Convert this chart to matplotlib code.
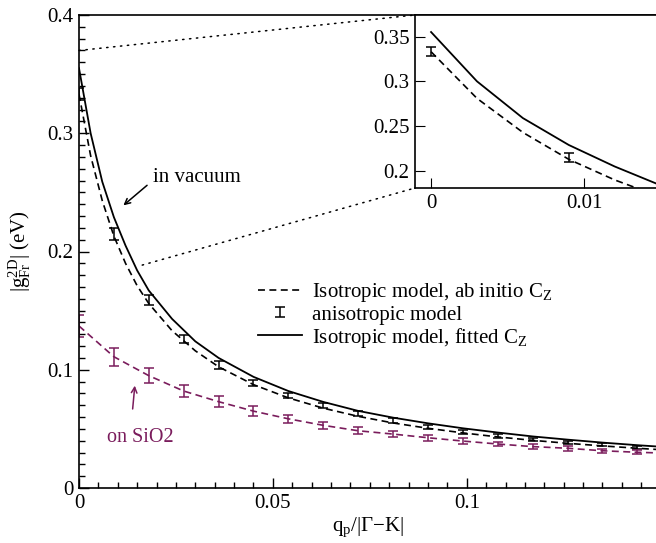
import matplotlib
matplotlib.use("Agg")
import matplotlib.pyplot as plt
from matplotlib.patches import ConnectionPatch
from matplotlib.lines import Line2D
from matplotlib.legend_handler import HandlerErrorbar

plt.rcParams["font.family"] = ["Liberation Serif", "DejaVu Serif"]
plt.rcParams["mathtext.fontset"] = "custom"
plt.rcParams["mathtext.rm"] = "Liberation Serif"
plt.rcParams["mathtext.it"] = "Liberation Serif:italic"
plt.rcParams["lines.scale_dashes"] = False

# curves (isotropic model)
q_curve = [0, 0.003, 0.006, 0.009, 0.012, 0.015, 0.018, 0.024, 0.030, 0.036, 0.045, 0.054,
           0.063, 0.072, 0.081, 0.090, 0.099, 0.108, 0.117, 0.126, 0.135, 0.144, 0.150]
g_fitted = [0.355, 0.300, 0.259, 0.229, 0.205, 0.184, 0.167, 0.143, 0.124, 0.110, 0.094, 0.082,
            0.0728, 0.0652, 0.0595, 0.0547, 0.0505, 0.0469, 0.0436, 0.0409, 0.0384, 0.0362, 0.0349]
g_abinitio = [0.333, 0.281, 0.243, 0.213, 0.190, 0.171, 0.156, 0.133, 0.116, 0.1025, 0.0874, 0.0762,
              0.0675, 0.0606, 0.0550, 0.0505, 0.0466, 0.0432, 0.0403, 0.0378, 0.0356, 0.0336, 0.0324]

# anisotropic model (error bars)
q_aniso = [0, 0.009, 0.018, 0.027, 0.036, 0.045, 0.054, 0.063, 0.072, 0.081,
           0.090, 0.099, 0.108, 0.117, 0.126, 0.135, 0.144]
g_vac = [0.333, 0.2145, 0.159, 0.126, 0.104, 0.089, 0.078, 0.070, 0.063, 0.057,
         0.0515, 0.0476, 0.044, 0.0412, 0.0386, 0.0367, 0.0346]
err_vac = [0.005, 0.005, 0.004, 0.0035, 0.003, 0.0025, 0.0022, 0.002, 0.002, 0.0018,
           0.0017, 0.0016, 0.0015, 0.0015, 0.0014, 0.0014, 0.0013]
g_sio2 = [0.137, 0.111, 0.095, 0.082, 0.073, 0.065, 0.0585, 0.053, 0.0484, 0.0456,
          0.0425, 0.0397, 0.0372, 0.035, 0.0336, 0.0315, 0.0302]
err_sio2 = [0.009, 0.0075, 0.0065, 0.005, 0.0045, 0.004, 0.0035, 0.003, 0.0028, 0.0026,
            0.0024, 0.0022, 0.002, 0.002, 0.0019, 0.0018, 0.0017]
q_sio2_end = 0.150
g_sio2_end = 0.0296

xticks = [0, 0.05, 0.1]
xticklabels = ["0", "0.05", "0.1"]
yticks = [0, 0.1, 0.2, 0.3, 0.4]
yticklabels = ["0", "0.1", "0.2", "0.3", "0.4"]
inset_xticks = [0, 0.01]
inset_xticklabels = ["0", "0.01"]
inset_yticks = [0.2, 0.25, 0.3, 0.35]
inset_yticklabels = ["0.2", "0.25", "0.3", "0.35"]

purple = "#7a1c5c"
dash = (0, (5, 3.2))

fig = plt.figure(figsize=(6.56, 5.43), dpi=100)
ax = fig.add_axes([79 / 656, 1 - 488 / 543, 577 / 656, 473 / 543])

ax.plot(q_curve, g_abinitio, color="black", lw=1.2, linestyle=dash)
ax.plot(q_curve, g_fitted, color="black", lw=1.3)
eb_vac = ax.errorbar(q_aniso, g_vac, yerr=err_vac, fmt="none", ecolor="black", elinewidth=1.1,
                     capsize=3.8, capthick=1.1)
ax.plot(q_aniso + [q_sio2_end], g_sio2 + [g_sio2_end], color=purple, lw=1.2, linestyle=dash)
ax.errorbar(q_aniso, g_sio2, yerr=err_sio2, fmt="none", ecolor=purple, elinewidth=1.1,
            capsize=3.8, capthick=1.1)

ax.set_xlim(0, 0.1488)
ax.set_ylim(0, 0.4)
ax.set_xticks(xticks)
ax.set_xticklabels(xticklabels)
ax.set_yticks(yticks)
ax.set_yticklabels(yticklabels)
ax.set_xticks([i * 0.005 for i in range(30)], minor=True)
ax.set_yticks([i * 0.01 for i in range(41)], minor=True)
ax.tick_params(which="both", direction="in", labelsize=15, width=1)
ax.tick_params(which="major", length=7, pad=4)
ax.tick_params(which="minor", length=4)
ax.spines["right"].set_visible(False)
for s in ["left", "bottom", "top"]:
    ax.spines[s].set_linewidth(1.2)

ax.set_xlabel("q$_\\mathrm{p}$/|\u0393\u2212K|", fontsize=15, labelpad=2)
ax.set_ylabel("|g$^{\\mathrm{2D}}_{\\mathrm{Fr}}$| (eV)", fontsize=15, labelpad=10)

# annotations
ax.text(0.0192, 0.263, "in vacuum", fontsize=15, ha="left", va="center")
ax.annotate("", xy=(0.0109, 0.2375), xytext=(0.0181, 0.2575),
            arrowprops=dict(arrowstyle="->", color="black", lw=1.1))
ax.text(0.0072, 0.043, "on SiO2", fontsize=14.5, ha="left", va="center", color=purple)
ax.annotate("", xy=(0.01446, 0.0889), xytext=(0.01377, 0.0645),
            arrowprops=dict(arrowstyle="->", color=purple, lw=1.1))

handles = [
    Line2D([], [], color="black", lw=1.2, linestyle=dash),
    eb_vac,
    Line2D([], [], color="black", lw=1.3),
]
labels = ["Isotropic model, ab initio C$_\\mathrm{Z}$", "anisotropic model",
          "Isotropic model, fitted C$_\\mathrm{Z}$"]
ax.legend(handles, labels, loc="upper left", bbox_to_anchor=((258 - 79) / 577, (488 - 281) / 473),
          frameon=False, fontsize=15, borderpad=0, borderaxespad=0, handlelength=2.1,
          handletextpad=0.5, labelspacing=0.05,
          handler_map={eb_vac: HandlerErrorbar(xerr_size=0.5, yerr_size=0.24)})

# inset
axin = fig.add_axes([415 / 656, 1 - 188 / 543, 241 / 656, 173 / 543])
axin.plot(q_curve, g_abinitio, color="black", lw=1.2, linestyle=dash)
axin.plot(q_curve, g_fitted, color="black", lw=1.3)
axin.errorbar(q_aniso, g_vac, yerr=err_vac, fmt="none", ecolor="black", elinewidth=1.1,
              capsize=3.8, capthick=1.1)
axin.set_xlim(-0.00105, 0.0147)
axin.set_ylim(0.181, 0.374)
axin.set_xticks(inset_xticks)
axin.set_xticklabels(inset_xticklabels)
axin.set_yticks(inset_yticks)
axin.set_yticklabels(inset_yticklabels)
axin.tick_params(direction="in", length=7, labelsize=15, pad=4)
axin.spines["right"].set_visible(False)
for s in ["left", "bottom", "top"]:
    axin.spines[s].set_linewidth(1.2)

# zoom connectors
for xy_main, xy_in in [((0, 0.37), (0, 1)), ((0.0163, 0.1885), (0, 0))]:
    con = ConnectionPatch(xyA=xy_main, coordsA=ax.transData, xyB=xy_in, coordsB=axin.transAxes,
                          color="black", lw=1.1, linestyle=(0, (1, 4)))
    fig.add_artist(con)

fig.savefig("out.png", dpi=100)
